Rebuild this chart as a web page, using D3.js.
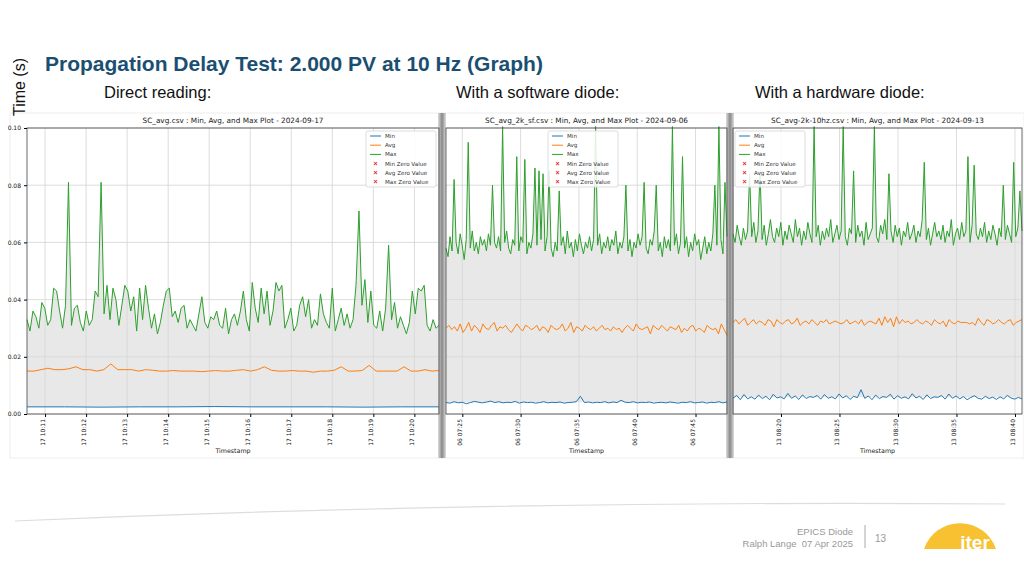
<!DOCTYPE html>
<html><head><meta charset="utf-8">
<script src="https://cdn.jsdelivr.net/npm/d3@7"></script>
<style>body{margin:0;background:#fff;font-family:"Liberation Sans",Arial,sans-serif}</style>
</head><body><svg id="s" width="1024" height="576"></svg>
<script>
// values in milliseconds
const p1Max=[33,29,36,34,30,39,37,31,33,44,43,36,30,38,81,31,37,38,32,29,36,31,33,43,41,81,35,45,33,44,40,31,38,45,43,36,41,29,44,33,45,37,30,35,28,32,38,43,44,34,36,32,37,38,30,33,31,29,35,41,32,30,34,33,36,31,30,37,28,33,35,31,36,43,33,29,46,37,32,44,35,43,31,36,46,43,45,30,33,37,29,31,38,41,34,40,30,33,31,42,35,32,30,44,29,33,37,31,35,30,33,45,71,38,47,32,43,31,30,36,29,37,59,33,39,30,34,31,28,32,43,35,44,43,45,31,29,33,30,31];
const p1Avg=[15,15,15.5,16,15.5,15.5,15.8,16.5,15.5,15.5,15,15.5,17.5,15.5,15.5,15.5,15,15.5,15.3,15,15,15.2,15,15,15,14.8,15,15.2,15,15,15.3,15.5,15,15.5,16.5,15.3,15,15,15.2,15,15,14.6,15,15,15.3,16.5,15,15,15.2,17,15,15,15,15,16.5,15,15,15.5,15,15.2];
const p1Min=[2.5,2.5,2.4,2.5,2.5,2.6,2.5,2.5,2.5,2.4,2.5,2.5];
const p2Max=[58,55,62,57,82,60,56,63,59,54,61,95,58,64,57,60,56,62,59,61,57,63,59,80,60,58,62,57,104,60,64,58,56,61,59,90,57,62,60,89,56,60,58,63,86,59,85,61,84,57,62,85,58,55,60,57,78,59,62,56,64,58,60,55,61,57,63,59,56,60,58,62,57,61,104,59,63,56,60,58,62,57,61,59,64,56,60,58,62,80,57,61,55,60,58,63,59,62,81,58,56,61,59,64,80,57,60,55,62,58,61,57,104,59,63,56,60,90,58,62,55,60,57,63,59,61,54,58,62,56,60,57,63,80,59,104,61,56,81,62];
const p2Avg=[30,31,29.5,30.5,29,31.5,28.5,30,32,29,31,30,28.5,31.5,30,29.5,31,32,29,30.5,30,31,29.5,28.5,30,31.5,30,29,31,30.5,29.5,30,31,29,30.5,30,28.5,31,30,29.5,30,31.5,29,30,32,28.5,30.5,30,29,31,30,29.5,30.5,29,30,31,29.5,30,29,30.5,29.5,30,28.5,30,31,30,29,31.5,30,29.5,30,30.5,28,31,30,29.5,31,30,29,30.5,30,29.5,31,28.5,30,29,30.5,31,29,30,29.5,28.5,31,30,29.5,30,28,31.5,29.5,27.5];
const p2Min=[4,3.8,4.3,3.9,4.1,3.6,4,4.4,4.1,3.9,4.2,4.5,4,4.3,3.9,4.1,4,4.4,3.8,4.2,4,4.1,3.8,4,4.3,3.9,4.1,4,4.2,3.8,4,4.1,4.3,6.2,4,4.2,3.9,4.1,4,4.3,3.9,4.2,4,4.8,4.1,4,4.3,3.9,4.1,4,4.2,3.8,4,4.1,3.9,4.2,4,3.8,4.1,4,4.3,3.9,4,4.2,3.8,4.1,4,4.3,3.9,4.2];
const p3Max=[63,60,66,62,59,65,61,64,84,62,67,60,64,85,61,66,59,63,68,62,60,65,62,67,59,64,61,66,63,60,68,62,65,59,64,61,67,63,60,104,62,66,59,64,61,65,62,68,60,63,66,61,64,104,62,59,65,63,85,60,66,62,64,59,67,61,63,65,104,62,60,66,63,68,61,84,64,60,66,62,65,59,64,62,67,61,63,66,60,64,62,68,88,61,65,59,63,67,62,64,61,66,60,64,62,68,59,63,65,61,67,62,64,90,60,66,87,63,61,65,62,67,60,64,61,66,63,59,65,62,80,61,66,63,60,88,62,65,78,64];
const p3Avg=[32,33,31.5,32.5,33.5,31,32,33,31.5,32.5,32,31,33,32.5,30.5,33,32,31.5,32.5,33,31.5,32,33.5,31,32,32.5,31.5,33,32,31,32.5,32,33,31.5,32,32.5,32,31.5,32,33,31.5,32,32.5,31.5,33,31,32,32.5,32,31.5,33.5,31,34,32,33.5,30.5,34,31.5,33,32,32.5,31.5,32,33,32,31.5,32.5,32,31,33,32,31.5,32.5,30.5,33,32,31.5,32.5,32,32,32,31.5,32,31,33.5,32,31,33,32.5,31.5,32,33,32,31.5,32.5,33,31,32,32.5,33];
const p3Min=[5.5,6.5,5,6.8,5.3,6,5.2,6.6,5.4,6.2,5,6.9,5.6,6,5.3,7.2,5.5,6.3,5.1,6.7,5.4,6.1,5.8,6.5,5.2,6.8,5.5,6,5.3,7,5.6,6.4,5.1,6.2,5.7,8.5,5.5,6.3,5,6.6,5.4,6.1,5.8,6.9,5.2,6.4,5.5,6,5.3,7.1,5.6,6.2,5.1,6.7,5.4,6,5.8,6.5,5.2,7,5.5,6.3,5.3,6.1,5,5.8,6.4,5.5,5.2,6.2,5.4,5.9,5.1,6,5.3,6.5,5.6,5.2,5.8,5.3];
const yTicks=[0,20,40,60,80,100];
const p1Ticks=[11,12,13,14,15,16,17,18,19,20]; // minutes past 10:00
const p2Ticks=[25,30,35,40,45]; // past 07:00
const p3Ticks=[20,25,30,35,40]; // past 08:00
const legendLabels=["Min","Avg","Max","Min Zero Value","Avg Zero Value","Max Zero Value"];

const svg=d3.select("#s");
const C={min:"#1f77b4",avg:"#ff7f0e",max:"#2ca02c"};

svg.append("rect").attr("x",10).attr("y",113).attr("width",1014).attr("height",345).attr("fill","#fff").attr("stroke","#eee");
[[438,446],[726,734]].forEach(([a,b])=>{
  const g=svg.append("defs").append("linearGradient").attr("id","g"+a);
  g.append("stop").attr("offset","0").attr("stop-color","#ddd");
  g.append("stop").attr("offset","0.5").attr("stop-color","#888");
  g.append("stop").attr("offset","1").attr("stop-color","#ddd");
  svg.append("rect").attr("x",a).attr("y",113).attr("width",b-a).attr("height",345).attr("fill","url(#g"+a+")");
});

function panel(o){
  const y=d3.scaleLinear().domain([0,100]).range([414,128]);
  const x=d3.scaleLinear().domain(o.tdom).range([o.x0,o.x1]);
  const g=svg.append("g");
  const idx=(arr)=>d3.scaleLinear().domain([0,arr.length-1]).range(o.tdom);
  g.selectAll(".vg").data(o.ticks).join("line").attr("x1",d=>x(d)).attr("x2",d=>x(d)).attr("y1",128).attr("y2",414).attr("stroke","#d3d3d3").attr("stroke-width",0.8);
  g.selectAll(".hg").data(yTicks).join("line").attr("x1",o.x0).attr("x2",o.x1).attr("y1",d=>y(d)).attr("y2",d=>y(d)).attr("stroke","#d3d3d3").attr("stroke-width",0.8);
  const mMin=d3.mean(o.min);
  const im=idx(o.max);
  g.append("path").datum(o.max).attr("fill","#d8d8d8").attr("fill-opacity",0.6)
    .attr("d",d3.area().x((d,i)=>x(im(i))).y0(y(mMin)).y1(d=>y(Math.min(d,100))));
  [["min",o.min],["avg",o.avg],["max",o.max]].forEach(([k,arr])=>{
    const s=idx(arr);
    g.append("path").datum(arr).attr("fill","none").attr("stroke",C[k]).attr("stroke-width",1)
      .attr("d",d3.line().x((d,i)=>x(s(i))).y(d=>y(Math.min(d,100.5))));
  });
  g.append("rect").attr("x",o.x0).attr("y",128).attr("width",o.x1-o.x0).attr("height",286).attr("fill","none").attr("stroke","#444").attr("stroke-width",0.8);
  const ax=g.append("g").attr("transform","translate(0,414)").call(d3.axisBottom(x).tickValues(o.ticks).tickSize(3).tickFormat(o.fmt));
  ax.select(".domain").remove();
  ax.selectAll("text").attr("transform","rotate(-90)").attr("text-anchor","end").attr("x",-5).attr("y",-3).attr("dy","0.35em").attr("font-size",6).attr("fill","#111").attr("font-family","DejaVu Sans");
  if(o.yax){
    const ay=g.append("g").attr("transform",`translate(${o.x0},0)`).call(d3.axisLeft(y).tickValues(yTicks).tickSize(3).tickFormat(d=>(d/1000).toFixed(2)));
    ay.select(".domain").remove();
    ay.selectAll("text").attr("font-size",6).attr("fill","#111").attr("font-family","DejaVu Sans");
  }
  g.append("text").attr("x",(o.x0+o.x1)/2).attr("y",123).attr("text-anchor","middle").attr("font-size",7.3).attr("font-family","DejaVu Sans").attr("fill","#222").text(o.title);
  g.append("text").attr("x",(o.x0+o.x1)/2).attr("y",453).attr("text-anchor","middle").attr("font-size",6.3).attr("font-family","DejaVu Sans").attr("fill","#222").text("Timestamp");
  const L=g.append("g").attr("transform",`translate(${o.lx},131)`);
  L.append("rect").attr("width",70).attr("height",56).attr("fill","#fff").attr("fill-opacity",0.85).attr("stroke","#ddd").attr("rx",2);
  legendLabels.forEach((t,i)=>{
    const yy=5+i*9.2;
    if(i<3) L.append("line").attr("x1",4).attr("x2",15).attr("y1",yy).attr("y2",yy).attr("stroke",C[["min","avg","max"][i]]).attr("stroke-width",1);
    else L.append("text").attr("x",9.5).attr("y",yy+2.3).attr("text-anchor","middle").attr("font-size",7).attr("fill","#e8202a").attr("font-weight","bold").text("×");
    L.append("text").attr("x",19).attr("y",yy+2).attr("font-size",5.6).attr("font-family","DejaVu Sans").attr("fill","#333").text(t);
  });
}
panel({x0:27,x1:439,tdom:[10.56,20.6],ticks:p1Ticks,fmt:d=>"17 10:"+d,min:p1Min,avg:p1Avg,max:p1Max,yax:true,title:"SC_avg.csv : Min, Avg, and Max Plot - 2024-09-17",lx:366});
panel({x0:446,x1:727,tdom:[23.6,47.7],ticks:p2Ticks,fmt:d=>"06 07:"+d,min:p2Min,avg:p2Avg,max:p2Max,yax:false,title:"SC_avg_2k_sf.csv : Min, Avg, and Max Plot - 2024-09-06",lx:548});
panel({x0:733,x1:1022,tdom:[15.9,40.6],ticks:p3Ticks,fmt:d=>"13 08:"+d,min:p3Min,avg:p3Avg,max:p3Max,yax:false,title:"SC_avg-2k-10hz.csv : Min, Avg, and Max Plot - 2024-09-13",lx:735});

svg.append("text").attr("x",45).attr("y",71).attr("font-size",21).attr("font-weight","bold").attr("fill","#1b4f72").text("Propagation Delay Test: 2.000 PV at 10 Hz (Graph)");
svg.append("text").attr("transform","translate(25,87) rotate(-90)").attr("text-anchor","middle").attr("font-size",16).attr("fill","#111").text("Time (s)");
[["Direct reading:",104],["With a software diode:",456],["With a hardware diode:",755]].forEach(([t,x])=>
  svg.append("text").attr("x",x).attr("y",98).attr("font-size",16.5).attr("fill","#111").text(t));
svg.append("path").attr("d","M15,521 Q500,500 1005,504").attr("fill","none").attr("stroke","#ddd").attr("stroke-width",1.2);
svg.append("text").attr("x",853).attr("y",535).attr("text-anchor","end").attr("font-size",9.5).attr("fill","#999").text("EPICS Diode");
svg.append("text").attr("x",853).attr("y",547).attr("text-anchor","end").attr("font-size",9.5).attr("fill","#999").attr("xml:space","preserve").text("Ralph Lange  07 Apr 2025");
svg.append("line").attr("x1",865).attr("x2",865).attr("y1",525).attr("y2",548).attr("stroke","#aaa");
svg.append("text").attr("x",875).attr("y",542).attr("font-size",10).attr("fill","#999").text("13");
svg.append("path").attr("d","M924,549 A38,38 0 0 1 996,549 Z").attr("fill","#f7c132");
svg.append("text").attr("x",975).attr("y",549).attr("text-anchor","middle").attr("font-size",19).attr("font-weight","bold").attr("fill","#fff").text("iter");
</script></body></html>
